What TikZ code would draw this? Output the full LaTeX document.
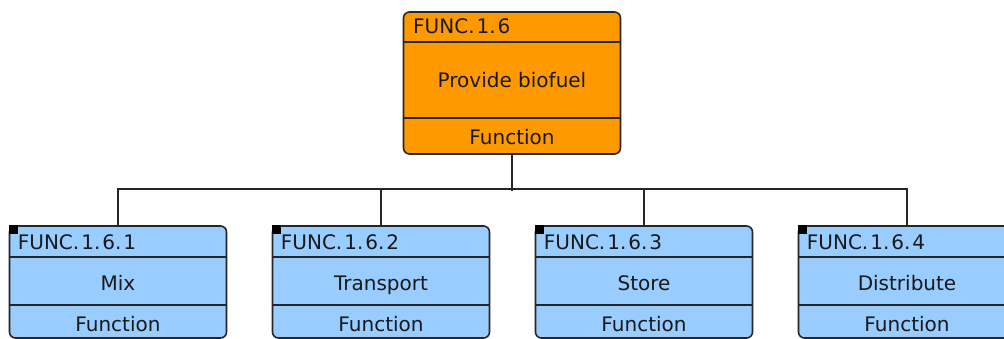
\documentclass[tikz,border=0pt]{standalone}
\usepackage{fontspec}
\setmainfont{DejaVu Sans}
\definecolor{orangefill}{HTML}{FF9900}
\definecolor{bluefill}{HTML}{99CCFF}
\definecolor{edgegray}{HTML}{262626}
\newcommand\dotk{.\kern2pt}
\begin{document}
\begin{tikzpicture}[x=1pt,y=-1pt,
  box/.style={draw=edgegray,line width=1.6pt,rounded corners=6pt,inner sep=0pt,minimum width=217pt},
  topbox/.style={box,fill=orangefill,minimum height=142pt},
  childbox/.style={box,fill=bluefill,minimum height=112pt},
  divider/.style={draw=edgegray,line width=1.6pt},
  conn/.style={draw=black!85,line width=2pt},
  txt/.style={font=\fontsize{20}{22}\selectfont,inner sep=0pt,text=black!90,anchor=base},
  idtxt/.style={txt,anchor=base west},
  marker/.style={fill=black,draw=none,minimum size=9pt,inner sep=0pt,anchor=north west}
]
\useasboundingbox (0,0) rectangle (1004,339);
% top box
\node[topbox] (top) at (512,83) {};
\draw[divider] (top.west |- 0,42) -- (top.east |- 0,42);
\draw[divider] (top.west |- 0,118) -- (top.east |- 0,118);
\node[idtxt] (topid) at (413,34) {FUNC\dotk 1\dotk 6};
\node[txt] (topname) at (512,88) {Provide biofuel};
\node[txt] (topkind) at (512,145) {Function};
% children
\foreach \i/\cx/\nm in {1/118/Mix,2/381/Transport,3/644/Store,4/907/Distribute}{
  \node[childbox] (c\i) at (\cx,282) {};
  \draw[divider] (c\i.west |- 0,257) -- (c\i.east |- 0,257);
  \draw[divider] (c\i.west |- 0,305) -- (c\i.east |- 0,305);
  \node[marker] (m\i) at (c\i.north west) {};
  \node[idtxt] (id\i) at ([xshift=9pt]c\i.west |- 0,249) {FUNC\dotk 1\dotk 6\dotk \i};
  \node[txt] (nm\i) at (\cx,290) {\nm};
  \node[txt] (kd\i) at (\cx,331) {Function};
}
% connectors
\draw[conn] (top.south) -- ++(0,36);
\draw[conn] (c1.north) -- ++(0,-36) -| (c4.north);
\draw[conn] (c2.north) -- ++(0,-36);
\draw[conn] (c3.north) -- ++(0,-36);
\end{tikzpicture}
\end{document}
